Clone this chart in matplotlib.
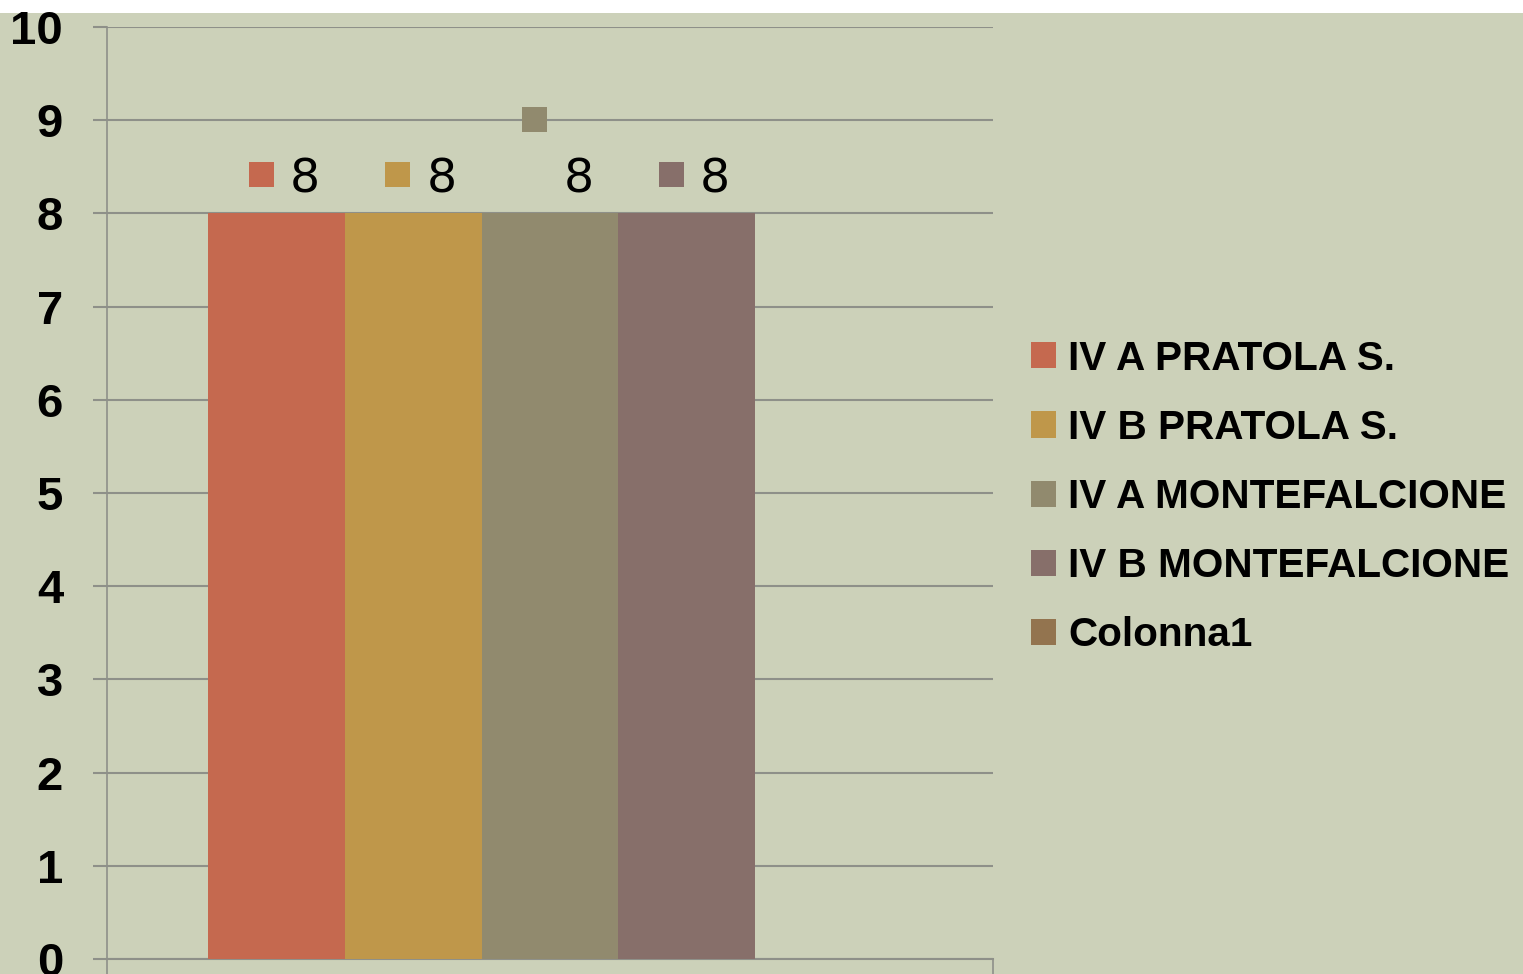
import matplotlib
matplotlib.use('Agg')
import matplotlib.pyplot as plt
from matplotlib.patches import Rectangle
from matplotlib.transforms import offset_copy

series = ['IV A PRATOLA S.', 'IV B PRATOLA S.', 'IV A MONTEFALCIONE', 'IV B MONTEFALCIONE', 'Colonna1']
values = [8, 8, 8, 8, 0]
show_label = [True, True, True, True, False]
colors = ['#C5694F', '#BF974A', '#918A6E', '#876F6A', '#93744F']
yticks = [0, 1, 2, 3, 4, 5, 6, 7, 8, 9, 10]

W, H = 1523, 974
BG = '#CCD1B9'
GRID = '#8E9089'

fig = plt.figure(figsize=(W / 100, H / 100), dpi=100, facecolor=BG)
fig.patches.append(Rectangle((0, (H - 13) / H), 1, 13 / H, transform=fig.transFigure,
                             facecolor='white', edgecolor='none', zorder=-10))
ax = fig.add_axes([107 / W, (H - 959) / H, (993 - 107) / W, (959 - 27) / H])
ax.set_facecolor(BG)

total = 0.771
bw = total / len(series)
handles = []
for i, (name, v, c) in enumerate(zip(series, values, colors)):
    x = -total / 2 + bw * (i + 0.5)
    b = ax.bar([x], [v], width=bw, color=c, label=name, zorder=3, linewidth=0)
    handles.append(b)
    if show_label[i]:
        dy_key = 94 if i == 2 else 39.5
        ax.plot([x], [v], marker='s', ms=18, mew=0, color=c, clip_on=False, zorder=5,
                transform=offset_copy(ax.transData, fig=fig, x=-16, y=dy_key, units='dots'))
        ax.text(x, v, str(v), ha='center', va='baseline', fontsize=34, color='black',
                family='DejaVu Sans', zorder=5,
                transform=offset_copy(ax.transData, fig=fig, x=28.5, y=21, units='dots'))

ax.set_xlim(-0.5, 0.5)
ax.set_ylim(0, 10)
ax.set_yticks(yticks)
ax.set_yticklabels([str(t) for t in yticks], fontsize=34, fontweight='bold',
                   family='Liberation Sans')
ax.set_xticks([-0.5, 0.5])
ax.set_xticklabels([])
ax.yaxis.grid(True, color=GRID, linewidth=1.5, zorder=1)
ax.set_axisbelow(True)
ax.tick_params(axis='y', length=10, width=1.5, color=GRID, pad=21.6, direction='out')
ax.tick_params(axis='x', length=11, width=1.2, color=GRID, direction='out')
for s in ['top', 'right']:
    ax.spines[s].set_visible(False)
ax.spines['left'].set_color(GRID)
ax.spines['left'].set_linewidth(1.2)
ax.spines['bottom'].set_color(GRID)
ax.spines['bottom'].set_linewidth(1.5)

fpx = 40.5
fs = fpx * 72 / 100
ax.legend(handles=handles, loc='center left', bbox_to_anchor=(1031 / W, (H - 497) / H),
          bbox_transform=fig.transFigure, frameon=False, borderpad=0, borderaxespad=0,
          handlelength=25 / fpx, handleheight=25 / fpx, handletextpad=12 / fpx,
          labelspacing=0.77,
          prop={'family': 'Liberation Sans', 'weight': 'bold', 'size': fs})

fig.savefig('out.png', dpi=100, facecolor=BG)
